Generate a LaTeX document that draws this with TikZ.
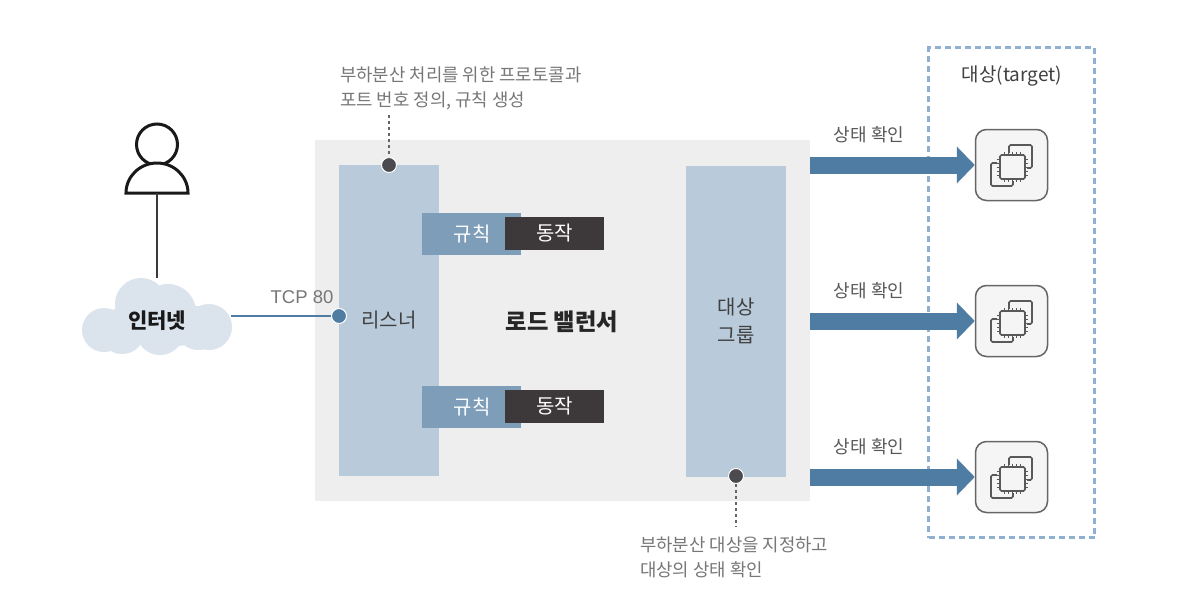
\documentclass[tikz,border=0pt]{standalone}
\usepackage{fontspec}
\setmainfont{Noto Sans CJK KR}
\newfontfamily\latinfont{Liberation Sans}
\usetikzlibrary{arrows.meta}
\definecolor{panel}{HTML}{EEEEEE}
\definecolor{lightblue}{HTML}{B9CADB}
\definecolor{rulecol}{HTML}{7D9DB9}
\definecolor{actcol}{HTML}{3D3839}
\definecolor{barcol}{HTML}{4F7CA3}
\definecolor{dashcol}{HTML}{8FB0D0}
\definecolor{cloudcol}{HTML}{DBE3ED}
\definecolor{notecol}{HTML}{777777}
\definecolor{dotcol}{HTML}{4A4A4F}
\tikzset{
  x=1pt,y=-1pt,
  txt/.style={font=\fontsize{20}{24}\selectfont,text=#1,inner sep=0pt},
  txt/.default=black!75,
  note/.style={font=\fontsize{17.8}{25}\selectfont,text=notecol,inner sep=0pt,align=left,anchor=west},
  tall/.style={fill=lightblue,draw=none,inner sep=0pt,minimum width=100pt,minimum height=311pt},
  rulebox/.style={fill=rulecol,inner sep=0pt,minimum width=99pt,minimum height=42pt},
  actbox/.style={fill=actcol,inner sep=0pt,minimum width=99pt,minimum height=33pt,text=white,font=\fontsize{20}{24}\selectfont},
  hbar/.style={draw=barcol,line width=17pt,-{Triangle[length=18pt,width=36pt]}},
  tgtbox/.style={draw=black!60,line width=1.5pt,fill=black!4,rounded corners=11pt,inner sep=0pt,minimum width=72pt,minimum height=71pt},
  icon/.style={draw=black!65,line width=1.7pt,fill=none,rounded corners=1.5pt},
  dot/.style={circle,fill=#1,draw=white,line width=1pt,inner sep=0pt,minimum size=15pt},
  lead/.style={draw=dotcol!85,line width=1.8pt,dash pattern=on 3pt off 3pt},
  hlabel/.style={txt=black!65,font=\fontsize{18}{22}\selectfont},
}
\newcommand{\chipicon}[2]{%
  \begin{scope}[shift={(#1,#2)}]
    \draw[icon] (-2.5,-12) -- (-2.5,-20) -- (20.5,-20) -- (20.5,3) -- (15.5,3);
    \draw[icon] (-14.5,-2) -- (-20.5,-2) -- (-20.5,21) -- (1.5,21) -- (1.5,16);
    \draw[icon] (-11.5,-10) rectangle (13.5,14);
    \foreach \k in {-8,-4,0,4,8}{
      \draw[black!65,line width=1pt] (\k+1,-13) -- (\k+1,-10) (\k+1,14) -- (\k+1,17)
        (-14.5,\k+2) -- (-11.5,\k+2) (13.5,\k+2) -- (16.5,\k+2);
    }
  \end{scope}}
\begin{document}
\begin{tikzpicture}
\useasboundingbox (0,0) rectangle (1179,611);
\fill[white] (0,0) rectangle (1179,611);
% panel
\node[fill=panel,inner sep=0pt,minimum width=495pt,minimum height=361pt] (lb) at (562.5,320.5) {};
\node[tall] (listener) at (389,320.5) {};
\node[tall] (group) at (736,321) {};
\node[txt] (listenerlabel) at (389,320) {리스너};
\node[txt,align=center,font=\fontsize{20}{28}\selectfont] (grouplabel) at (736,321) {대상\\그룹};
\node[txt=black!85,font=\bfseries\fontsize{23.3}{28}\selectfont] (lblabel) at (562,322) {로드 밸런서};
% rules
\node[rulebox] (r1) at (471.5,234) {};
\node[rulebox] (r2) at (471.5,407) {};
\node[txt=white] (r1t) at (472,234) {규칙};
\node[txt=white] (r2t) at (472,407) {규칙};
\node[actbox] (a1) at (554.5,233.5) {동작};
\node[actbox] (a2) at (554.5,406.5) {동작};
% person
\node[circle,draw=black!90,line width=3pt,fill=white,inner sep=0pt,minimum size=41pt] (head) at (157,144.5) {};
\draw[black!90,line width=3pt,fill=white] (126,193) arc[start angle=180,end angle=360,x radius=31,y radius=30] -- cycle;
\coordinate (body) at (157,193);
% cloud
\foreach \cx/\cy/\cr in {141/304/26,168/312/28,209/327/23,104/330/22,122/331/23,160/331/24,198/328/22,178/322/24}{
  \fill[cloudcol] (\cx,\cy) circle[radius=\cr];
}
\fill[cloudcol] (110,315) rectangle (205,345);
\node[txt=black!90,font=\bfseries\fontsize{21}{25}\selectfont] (cloud) at (157,321) {인터넷};
\coordinate (cloudtop) at (157,278);
\coordinate (cloudright) at (231,316);
\draw[actcol,line width=1.3pt] (body) -- (cloudtop);
% tcp
\node[dot=barcol] (tcp) at (339,316) {};
\draw[barcol,line width=1.1pt] (cloudright) -- (tcp);
\node[txt=notecol,font=\latinfont\fontsize{18.5}{22}\selectfont] (tcpl) at (302,297) {TCP 80};
% annotations
\node[note] (n1) at (340,88) {부하분산 처리를 위한 프로토콜과\\포트 번호 정의, 규칙 생성};
\node[note] (n2) at (640,557) {부하분산 대상을 지정하고\\대상의 상태 확인};
\node[dot=dotcol] (d1) at (389,165) {};
\node[dot=dotcol] (d2) at (736,476) {};
\coordinate (n1b) at (389,115);
\coordinate (n2t) at (736,527);
\draw[lead] (n1b) -- (d1);
\draw[lead] (d2) -- (n2t);
% targets
\node[draw=dashcol,dash pattern=on 6pt off 4pt,line width=2.2pt,inner sep=0pt,minimum width=166pt,minimum height=490pt] (tg) at (1011.5,292.5) {};
\node[txt,font=\fontsize{19}{23}\selectfont] (tgl) at (1012,76) {대상(target)};
\node[tgtbox] (t1) at (1011.5,165) {};
\node[tgtbox] (t2) at (1011.5,321) {};
\node[tgtbox] (t3) at (1011.5,477) {};
\chipicon{1011.5}{165}
\chipicon{1011.5}{321}
\chipicon{1011.5}{477}
\draw[hbar] (lb.east|-t1) -- (t1.west);
\draw[hbar] (lb.east|-t2) -- (t2.west);
\draw[hbar] (lb.east|-t3) -- (t3.west);
\node[hlabel] (h1) at (869,135) {상태 확인};
\node[hlabel] (h2) at (869,291) {상태 확인};
\node[hlabel] (h3) at (869,447) {상태 확인};
\end{tikzpicture}
\end{document}
